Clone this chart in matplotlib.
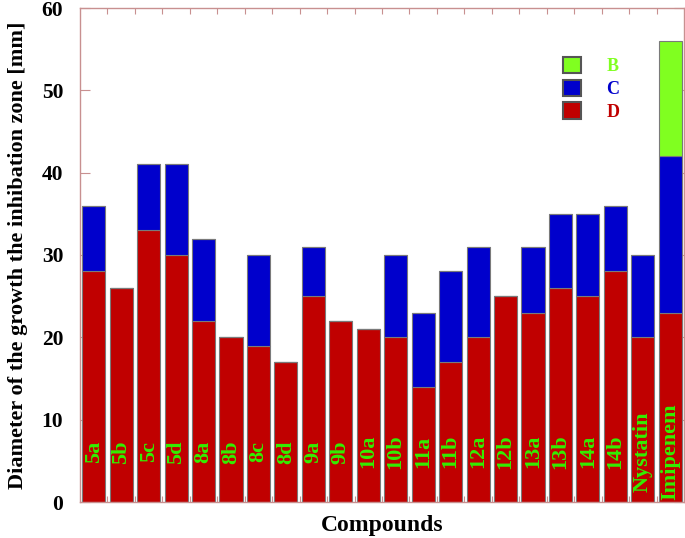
import matplotlib
matplotlib.use("Agg")
import matplotlib.pyplot as plt
import numpy as np

compounds = ["5a", "5b", "5c", "5d", "8a", "8b", "8c", "8d", "9a", "9b", "10a",
             "10b", "11a", "11b", "12a", "12b", "13a", "13b", "14a", "14b",
             "Nystatin", "Imipenem"]
D = [28, 26, 33, 30, 22, 20, 19, 17, 25, 22, 21, 20, 14, 17, 20, 25, 23, 26, 25, 28, 20, 23]
C = [8, 0, 8, 11, 10, 0, 11, 0, 6, 0, 0, 10, 9, 11, 11, 0, 8, 9, 10, 8, 10, 19]
B = [0, 0, 0, 0, 0, 0, 0, 0, 0, 0, 0, 0, 0, 0, 0, 0, 0, 0, 0, 0, 0, 14]

plt.rcParams['font.family'] = ['Liberation Serif', 'DejaVu Serif']

fig = plt.figure(figsize=(6.85, 5.38), dpi=100)
ax = fig.add_axes([80/685, 36/538, 604/685, 494/538])

x = np.arange(len(compounds))
w = 0.84
red, blue, green = '#c00000', '#0000cc', '#80ff20'
ec = '#7a7a7a'
D_arr = np.array(D); C_arr = np.array(C); B_arr = np.array(B)
ax.bar(x, D_arr, w, color=red, edgecolor=ec, linewidth=0.8, label='D', zorder=2)
ax.bar(x, C_arr, w, bottom=D_arr, color=blue, edgecolor=ec, linewidth=0.8, label='C', zorder=2)
ax.bar(x, B_arr, w, bottom=D_arr + C_arr, color=green, edgecolor=ec, linewidth=0.8, label='B', zorder=2)

for xi, name in zip(x, compounds):
    ax.text(xi, 6.1, name, rotation=90, ha='center', va='center', color='#33ee00',
            fontsize=16, fontweight='bold', zorder=3)

ax.set_xlim(-0.5, len(compounds) - 0.5)
ax.set_ylim(0, 60)
ax.set_yticks(np.arange(0, 61, 10))
ax.set_xticks(np.arange(0.5, len(compounds) - 0.5, 1))
ax.set_xticklabels([])

spc = '#c89090'
for s in ax.spines.values():
    s.set_color(spc)
    s.set_linewidth(1.0)
ax.tick_params(axis='y', direction='in', length=7, color=spc, right=True,
               labelsize=15.5, pad=12)
ax.tick_params(axis='x', direction='in', length=4, color=spc, top=True)
for lab in ax.get_yticklabels():
    lab.set_fontweight('bold')

ax.set_ylabel('Diameter of the growth the inhibation zone [mm]', fontsize=16,
              fontweight='bold', labelpad=10)
ax.set_xlabel('Compounds', fontsize=17, fontweight='bold', labelpad=6)

handles, labels = ax.get_legend_handles_labels()
order = [2, 1, 0]
leg = ax.legend([handles[i] for i in order], [labels[i] for i in order],
                loc='upper left', bbox_to_anchor=(0.80, 0.901), frameon=False,
                handlelength=1.0, handleheight=1.0, handletextpad=1.4,
                labelspacing=0.25, borderpad=0.0, borderaxespad=0.0,
                prop={'weight': 'bold', 'size': 13},
                labelcolor=[green, blue, red])
for h in leg.legend_handles:
    h.set_edgecolor('#555555')
    h.set_linewidth(1.5)

fig.savefig('out.png', dpi=100)
